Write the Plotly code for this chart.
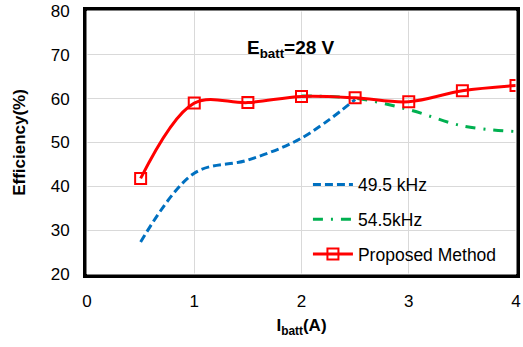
import plotly.graph_objects as go

x_blue = [0.5, 1.0, 1.5, 2.0, 2.5]
y_blue = [27.3, 43.0, 46.0, 51.0, 59.8]

x_green = [2.0, 2.5, 3.0, 3.5, 4.0]
y_green = [60.6, 60.1, 57.5, 53.8, 52.5]

x_red = [0.5, 1.0, 1.5, 2.0, 2.5, 3.0, 3.5, 4.0]
y_red = [41.8, 59.0, 59.1, 60.5, 60.2, 59.3, 61.8, 63.0]

font = "Liberation Sans, Arial, sans-serif"

fig = go.Figure()
fig.add_trace(go.Scatter(x=x_blue, y=y_blue, mode="lines", name="49.5 kHz",
                         legendgroup="a",
                         line=dict(color="#0070C0", width=3, dash="8px,4px", shape="spline")))
fig.add_trace(go.Scatter(x=x_green, y=y_green, mode="lines", name="54.5kHz",
                         legendgroup="b",
                         line=dict(color="#00B050", width=3, dash="10px,8px,2px,8px", shape="spline")))
fig.add_trace(go.Scatter(x=x_red, y=y_red, mode="lines+markers", name="Proposed Method",
                         legendgroup="c",
                         line=dict(color="#FF0000", width=3, shape="spline"),
                         marker=dict(symbol="square-open", size=11, color="#FF0000",
                                     line=dict(width=2, color="#FF0000"))))

fig.add_annotation(x=1.9, y=71.3, xref="x", yref="y", showarrow=False,
                   text="<b>E<sub>batt</sub>=28 V</b>",
                   font=dict(family=font, size=19, color="black"))

fig.add_shape(type="rect", xref="paper", yref="paper", x0=0, y0=0, x1=1, y1=1,
              line=dict(color="white", width=1), layer="above")

fig.update_layout(
    width=523, height=347,
    margin=dict(l=87, r=7, t=11, b=73, autoexpand=False),
    paper_bgcolor="white", plot_bgcolor="white",
    font=dict(family=font, size=17, color="black"),
    showlegend=True,
    legend=dict(x=0.515, y=0.408, xanchor="left", yanchor="top",
                bgcolor="rgba(0,0,0,0)", font=dict(family=font, size=17.5),
                itemwidth=40, tracegroupgap=9),
    xaxis=dict(range=[0, 4], dtick=1, showgrid=True, gridcolor="#D9D9D9", gridwidth=1,
               showline=True, linecolor="black", linewidth=4, mirror=True,
               ticks="outside", ticklen=9, tickcolor="rgba(0,0,0,0)",
               zeroline=False, automargin=False,
               title=dict(text="<b>I<sub>batt</sub>(A)</b>", standoff=10,
                          font=dict(family=font, size=17))),
    yaxis=dict(range=[20, 80], dtick=10, showgrid=True, gridcolor="#D9D9D9", gridwidth=1,
               showline=True, linecolor="black", linewidth=4, mirror=True,
               ticks="outside", ticklen=10, tickcolor="rgba(0,0,0,0)",
               zeroline=False, automargin=False,
               title=dict(text="<b>Efficiency(%)</b>", standoff=22,
                          font=dict(family=font, size=17))),
)

fig.write_html("out.html", config={"displayModeBar": False},
               post_script="document.body.style.margin='0';")
